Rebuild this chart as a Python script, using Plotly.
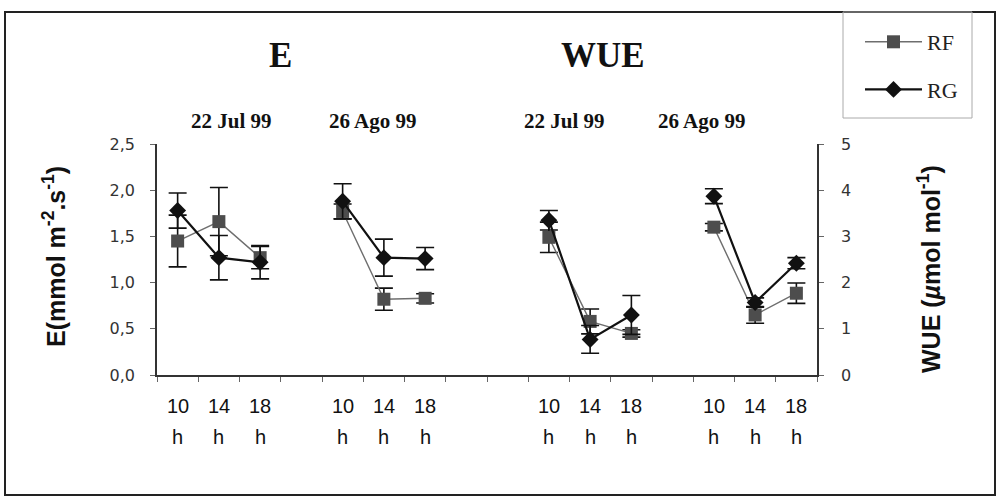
import plotly.graph_objects as go

# ---------------- data ----------------
hour_labels = ["10", "14", "18"]
# category slots on the shared x axis (16 slots, some empty)
pos_E = [[0, 1, 2], [4, 5, 6]]
pos_WUE = [[9, 10, 11], [13, 14, 15]]
date_labels = ["22 Jul 99", "26 Ago 99"]

E_RF = [[1.45, 1.66, 1.27], [1.77, 0.82, 0.83]]
E_RF_err = [[0.28, 0.37, 0.12], [0.08, 0.12, 0.05]]
E_RG = [[1.78, 1.27, 1.22], [1.88, 1.27, 1.26]]
E_RG_err = [[0.19, 0.24, 0.18], [0.19, 0.20, 0.12]]

WUE_RF = [[2.98, 1.16, 0.90], [3.20, 1.30, 1.77]]
WUE_RF_err = [[0.33, 0.27, 0.08], [0.08, 0.18, 0.22]]
WUE_RG = [[3.35, 0.77, 1.30], [3.87, 1.57, 2.42]]
WUE_RG_err = [[0.21, 0.30, 0.42], [0.16, 0.10, 0.12]]

E_ticks = [0, 0.5, 1.0, 1.5, 2.0, 2.5]
WUE_ticks = [0, 1, 2, 3, 4, 5]


def join(groups):
    out = []
    for i, g in enumerate(groups):
        if i:
            out.append(None)
        out.extend(g)
    return out


RF_MARK = "#4d4d4d"
RF_LINE = "#6e6e6e"
RG_COL = "#111111"
ERR = dict(type="data", color="#111111", thickness=1.6, width=9, visible=True)

fig = go.Figure()


def add(x, y, err, name, yaxis, rf, show):
    fig.add_trace(go.Scatter(
        x=join(x), y=join(y), yaxis=yaxis, name=name,
        mode="lines+markers", connectgaps=False,
        showlegend=show, legendgroup=name,
        line=dict(color=RF_LINE if rf else RG_COL, width=1.4 if rf else 2.2),
        marker=dict(symbol="square" if rf else "diamond",
                    size=13,
                    color=RF_MARK if rf else RG_COL,
                    line=dict(width=0)),
        error_y=dict(array=join(err), **ERR),
    ))


add(pos_E, E_RF, E_RF_err, "RF", "y", True, True)
add(pos_E, E_RG, E_RG_err, "RG", "y", False, True)
add(pos_WUE, WUE_RF, WUE_RF_err, "RF", "y2", True, False)
add(pos_WUE, WUE_RG, WUE_RG_err, "RG", "y2", False, False)

# ---------------- geometry (pixels) ----------------
W, H = 1001, 497
L, R, T, B = 157, 817, 144, 375
pw, ph = R - L, B - T


def px(xp):
    return (xp - L) / pw


def py(yp):
    return (B - yp) / ph


annotations = []
ANCH = dict(xanchor="center", yanchor="middle", showarrow=False)
hour_font = dict(family="Liberation Sans", size=20, color="#111")
# hour labels under the axis
for grp in pos_E + pos_WUE:
    for p, lab in zip(grp, hour_labels):
        annotations.append(dict(x=p, y=py(406), xref="x", yref="paper", text=lab,
                                font=hour_font, **ANCH))
        annotations.append(dict(x=p, y=py(437), xref="x", yref="paper", text="h",
                                font=hour_font, **ANCH))
# date labels (pixel centres)
date_x = [[231, 373], [564, 702]]
for xs in date_x:
    for xc, lab in zip(xs, date_labels):
        annotations.append(dict(x=px(xc), y=py(121), xref="paper", yref="paper", text="<b>%s</b>" % lab,
                                font=dict(family="Liberation Serif", size=21, color="#111"), **ANCH))
# panel titles
annotations.append(dict(x=px(280), y=py(55), xref="paper", yref="paper", text="<b>E</b>",
                        font=dict(family="Liberation Serif", size=35, color="#111"), **ANCH))
annotations.append(dict(x=px(603), y=py(55), xref="paper", yref="paper", text="<b>WUE</b>",
                        font=dict(family="Liberation Serif", size=35, color="#111"), **ANCH))
# axis titles
annotations.append(dict(x=px(54), y=py(257), xref="paper", yref="paper", textangle=-90,
                        text="<b>E(mmol m<sup>-2</sup>.s<sup>-1</sup>)</b>",
                        font=dict(family="Liberation Sans", size=25, color="#111"), **ANCH))
annotations.append(dict(x=px(929), y=py(269), xref="paper", yref="paper", textangle=-90,
                        text="<b>WUE (<i>µ</i>mol mol<sup>-1</sup>)</b>",
                        font=dict(family="Liberation Sans", size=25, color="#111"), **ANCH))

shapes = [
    # outer frame
    dict(type="rect", xref="paper", yref="paper", x0=px(5), x1=px(995), y0=py(495), y1=py(12),
         line=dict(color="#222", width=2)),
    # legend box
    dict(type="rect", xref="paper", yref="paper", x0=px(843), x1=px(972), y0=py(118), y1=py(12),
         line=dict(color="#aaaaaa", width=1)),
]

tick_font = dict(family="DejaVu Sans", size=16, color="#333")

fig.update_layout(
    width=W, height=H,
    margin=dict(l=L, r=W - R, t=T, b=H - B, pad=0),
    paper_bgcolor="white", plot_bgcolor="white",
    separators=",.",
    showlegend=True,
    legend=dict(x=px(860), y=py(21), xanchor="left", yanchor="top",
                bgcolor="rgba(0,0,0,0)", borderwidth=0,
                traceorder="grouped", tracegroupgap=16, itemwidth=57,
                font=dict(family="Liberation Serif", size=22, color="#222")),
    xaxis=dict(range=[-0.5, 15.5], showgrid=False, zeroline=False,
               showline=True, linecolor="#333", linewidth=1.5,
               tickmode="linear", tick0=-0.5, dtick=1, ticks="outside", ticklen=5,
               tickcolor="#666", showticklabels=False),
    yaxis=dict(range=[0, 2.5], tickvals=E_ticks, tickformat=".1f", showgrid=False, zeroline=False,
               showline=True, linecolor="#333", linewidth=1.5, ticks="outside", ticklen=5,
               tickcolor="#666", tickfont=tick_font, ticklabelstandoff=12),
    yaxis2=dict(range=[0, 5], tickvals=WUE_ticks, overlaying="y", side="right", showgrid=False,
                zeroline=False, showline=True, linecolor="#333", linewidth=1.5, ticks="outside",
                ticklen=5, tickcolor="#666", tickfont=tick_font, ticklabelstandoff=14),
    annotations=annotations,
    shapes=shapes,
)

fig.write_html("out.html", config={"displayModeBar": False})

# remove the browser's default page margin so the figure sits at (0, 0)
with open("out.html", encoding="utf-8") as f:
    html = f.read()
html = html.replace("<head>", "<head><style>html,body{margin:0;padding:0;overflow:hidden;}</style>", 1)
with open("out.html", "w", encoding="utf-8") as f:
    f.write(html)
